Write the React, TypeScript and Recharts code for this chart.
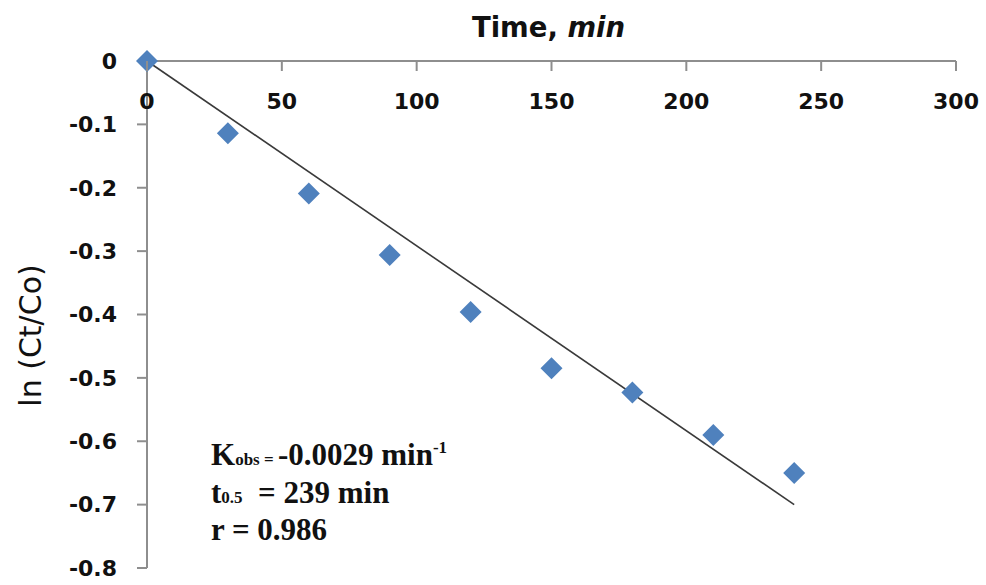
import React from "react";
import { ScatterChart, Scatter, XAxis, YAxis } from "recharts";

const times = [0, 30, 60, 90, 120, 150, 180, 210, 240];
const lnRatio = [0, -0.114, -0.209, -0.306, -0.396, -0.485, -0.523, -0.59, -0.65];
const fitTimes = [0, 240];
const fitValues = [0, -0.7];
const xTicks = [0, 50, 100, 150, 200, 250, 300];
const yTicks = [0, -0.1, -0.2, -0.3, -0.4, -0.5, -0.6, -0.7, -0.8];

const points = times.map((t, i) => ({ t, v: lnRatio[i] }));
const fit = fitTimes.map((t, i) => ({ t, v: fitValues[i] }));

const AXIS = "#8e8e8e";
const FONT = "'DejaVu Sans', sans-serif";

function Diamond(props: any) {
  const { cx, cy } = props;
  const r = 11;
  return (
    <path
      d={`M${cx},${cy - r}L${cx + r},${cy}L${cx},${cy + r}L${cx - r},${cy}Z`}
      fill="#4f81bd"
    />
  );
}

function XTick(props: any) {
  const { x, y, payload } = props;
  return (
    <g>
      <line x1={x} y1={y} x2={x} y2={y + 10} stroke={AXIS} strokeWidth={2} />
      <text
        x={x}
        y={y + 42}
        textAnchor="middle"
        dominantBaseline="middle"
        fontFamily={FONT}
        fontWeight="bold"
        fontSize={22}
        fill="#111"
      >
        {payload.value}
      </text>
    </g>
  );
}

function TitleLabel(props: any) {
  const { viewBox } = props;
  const cx = viewBox.x + viewBox.width / 2 - 3;
  return (
    <text
      x={cx}
      y={29}
      textAnchor="middle"
      dominantBaseline="middle"
      fontFamily={FONT}
      fontWeight="bold"
      fontSize={27.5}
      fill="#111"
    >
      Time, <tspan fontStyle="italic">min</tspan>
    </text>
  );
}

function YLabel(props: any) {
  const { viewBox } = props;
  const x = 32;
  const y = viewBox.y + viewBox.height / 2 + 21;
  return (
    <text
      x={x}
      y={y}
      transform={`rotate(-90 ${x} ${y})`}
      textAnchor="middle"
      dominantBaseline="middle"
      fontFamily={FONT}
      fontSize={30}
      fill="#111"
    >
      ln (Ct/Co)
    </text>
  );
}

const small = { fontSize: 17, lineHeight: 0 };

export default function App() {
  return (
    <div style={{ position: "absolute", left: 0, top: 0, width: 986, height: 585, background: "#fff" }}>
      <ScatterChart width={986} height={585} margin={{ top: 31, right: 30, bottom: 17, left: 0 }}>
        <XAxis
          type="number"
          dataKey="t"
          orientation="top"
          height={30}
          domain={[0, 300]}
          ticks={xTicks}
          tickSize={0}
          tickMargin={0}
          tickLine={false}
          axisLine={{ stroke: AXIS, strokeWidth: 2 }}
          tick={<XTick />}
          label={<TitleLabel />}
        />
        <YAxis
          type="number"
          dataKey="v"
          width={147}
          domain={[-0.8, 0]}
          ticks={yTicks}
          tickSize={10}
          tickMargin={20}
          axisLine={{ stroke: AXIS, strokeWidth: 2 }}
          tickLine={{ stroke: AXIS, strokeWidth: 2 }}
          tick={{ fontFamily: FONT, fontWeight: "bold", fontSize: 22, fill: "#111" }}
          label={<YLabel />}
        />
        <Scatter
          data={fit}
          line={{ stroke: "#3a3a3a", strokeWidth: 1.6 }}
          shape={() => <g />}
          isAnimationActive={false}
        />
        <Scatter data={points} shape={<Diamond />} isAnimationActive={false} />
      </ScatterChart>
      <div
        style={{
          position: "absolute",
          left: 211,
          top: 436,
          fontFamily: "'Liberation Serif', serif",
          fontWeight: "bold",
          fontSize: 31,
          lineHeight: "37.5px",
          color: "#111",
          whiteSpace: "nowrap",
        }}
      >
        <div>
          K<span style={small}>obs = </span>-0.0029 min
          <span style={{ ...small, position: "relative", top: -12 }}>-1</span>
        </div>
        <div>
          t<span style={small}>0.5</span>&nbsp; = 239 min
        </div>
        <div>r = 0.986</div>
      </div>
    </div>
  );
}
